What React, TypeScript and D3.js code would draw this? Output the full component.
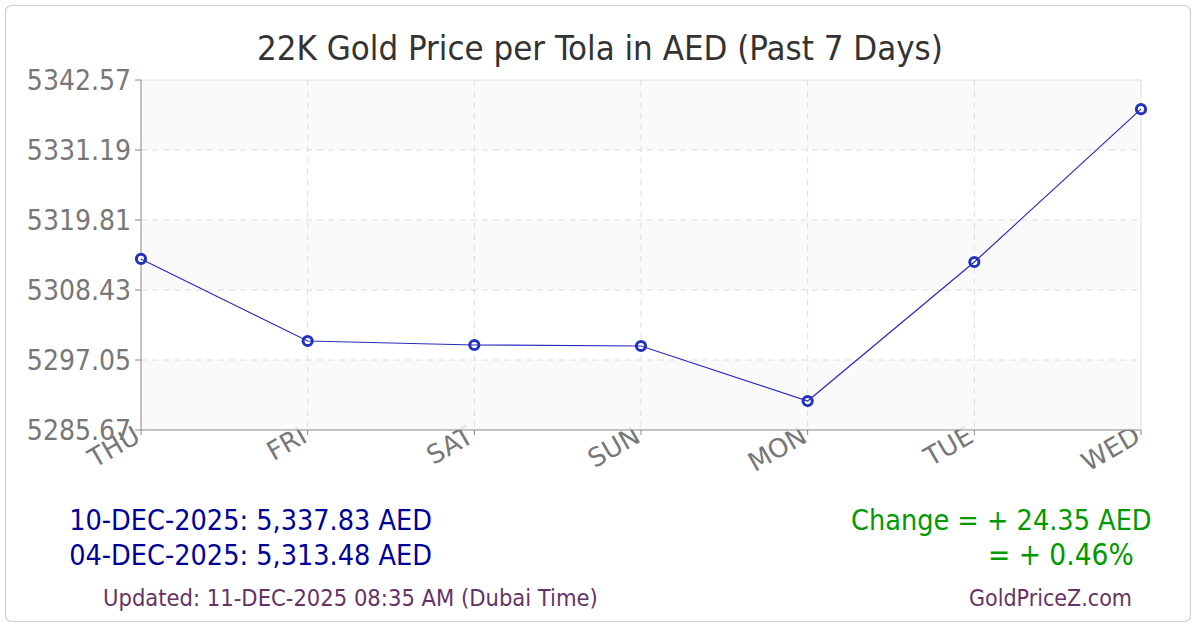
import React from "react";
import * as d3 from "d3";

const days = ["THU", "FRI", "SAT", "SUN", "MON", "TUE", "WED"];
const prices = [5313.48, 5300.14, 5299.49, 5299.33, 5290.38, 5312.98, 5337.83];
const yTicks = [5285.67, 5297.05, 5308.43, 5319.81, 5331.19, 5342.57];
const titleText = "22K Gold Price per Tola in AED (Past 7 Days)";
const latestLine = "10-DEC-2025: 5,337.83 AED";
const firstLine = "04-DEC-2025: 5,313.48 AED";
const changeLine1 = "Change = + 24.35 AED";
const changeLine2 = "= + 0.46%";
const updatedLine = "Updated: 11-DEC-2025 08:35 AM (Dubai Time)";
const siteLine = "GoldPriceZ.com";

const W = 1200;
const H = 630;
const left = 141;
const right = 1141;
const top = 80;
const bottom = 430;
const FONT = "'DejaVu Sans Condensed', 'DejaVu Sans', sans-serif";
const FONT_WIDE = "'DejaVu Sans', sans-serif";

export default function App() {
  const x = d3.scalePoint<string>().domain(days).range([left, right]);
  const y = d3.scaleLinear().domain([yTicks[0], yTicks[yTicks.length - 1]]).range([bottom, top]);
  const line = d3
    .line<number>()
    .x((_, i) => x(days[i]) as number)
    .y((d) => y(d));

  const bands = yTicks.slice(0, -1).map((t, i) => ({ lo: t, hi: yTicks[i + 1], fill: i % 2 === 0 }));

  return (
    <svg
      width={W}
      height={H}
      viewBox={`0 0 ${W} ${H}`}
      style={{ position: "absolute", left: 0, top: 0, display: "block", fontFamily: FONT, fontStretch: "condensed" }}
    >
      <rect x={0} y={0} width={W} height={H} fill="#ffffff" />
      <rect x={5.5} y={5.5} width={1185} height={616} rx={6} ry={6} fill="#ffffff" stroke="#d0d0d0" strokeWidth={1.2} />

      <text x={600} y={60} textAnchor="middle" fontSize={34.5} fill="#333333">
        {titleText}
      </text>

      {yTicks.map((t) => (
        <text key={t} x={left - 10} y={y(t)} dy="0.36em" textAnchor="end" fontSize={28} fill="#777777">
          {t.toFixed(2)}
        </text>
      ))}

      {days.map((d) => (
        <text
          key={d}
          transform={`translate(${(x(d) as number) + 1},${bottom + 11}) rotate(-30)`}
          textAnchor="end"
          fontSize={26}
          fill="#777777"
          style={{ fontFamily: FONT_WIDE, fontStretch: "normal" }}
        >
          {d}
        </text>
      ))}

      {bands.map((b, i) =>
        b.fill ? (
          <rect
            key={i}
            x={left}
            y={y(b.hi)}
            width={right - left}
            height={y(b.lo) - y(b.hi)}
            fill="#f9f9f9"
            fillOpacity={0.85}
          />
        ) : null
      )}

      {yTicks.slice(1, -1).map((t) => (
        <line key={t} x1={left} x2={right} y1={y(t)} y2={y(t)} stroke="#dddddd" strokeWidth={1} strokeDasharray="6,5" />
      ))}
      {days.slice(1, -1).map((d) => (
        <line key={d} x1={x(d)} x2={x(d)} y1={top} y2={bottom} stroke="#dddddd" strokeWidth={1} strokeDasharray="6,5" />
      ))}

      <line x1={left} x2={right} y1={top} y2={top} stroke="#dddddd" strokeWidth={1} />
      <line x1={right} x2={right} y1={top} y2={bottom} stroke="#dddddd" strokeWidth={1} />
      <line x1={left} x2={left} y1={top} y2={bottom} stroke="#888888" strokeWidth={1} />
      <line x1={left} x2={right} y1={bottom} y2={bottom} stroke="#888888" strokeWidth={1} />

      {yTicks.map((t) => (
        <line key={t} x1={left - 6} x2={left} y1={y(t)} y2={y(t)} stroke="#888888" strokeWidth={1} />
      ))}
      {days.map((d) => (
        <line key={d} x1={x(d)} x2={x(d)} y1={bottom} y2={bottom + 5} stroke="#888888" strokeWidth={1} />
      ))}

      {prices.map((p, i) => (
        <circle key={i} cx={x(days[i])} cy={y(p)} r={4.6} fill="#ffffff" stroke="#2233bb" strokeWidth={3} />
      ))}
      <path d={line(prices) || ""} fill="none" stroke="#2a2abb" strokeWidth={1.2} />

      <text x={432} y={530} textAnchor="end" fontSize={28.5} fill="#000099">
        {latestLine}
      </text>
      <text x={432} y={565} textAnchor="end" fontSize={28.5} fill="#000099">
        {firstLine}
      </text>
      <text x={851} y={530} fontSize={28.5} fill="#009900">
        {changeLine1}
      </text>
      <text x={988} y={565} fontSize={29.5} fill="#009900">
        {changeLine2}
      </text>
      <text x={103} y={606} fontSize={23.5} fill="#663366">
        {updatedLine}
      </text>
      <text x={969} y={606} fontSize={23} fill="#663366">
        {siteLine}
      </text>
    </svg>
  );
}
